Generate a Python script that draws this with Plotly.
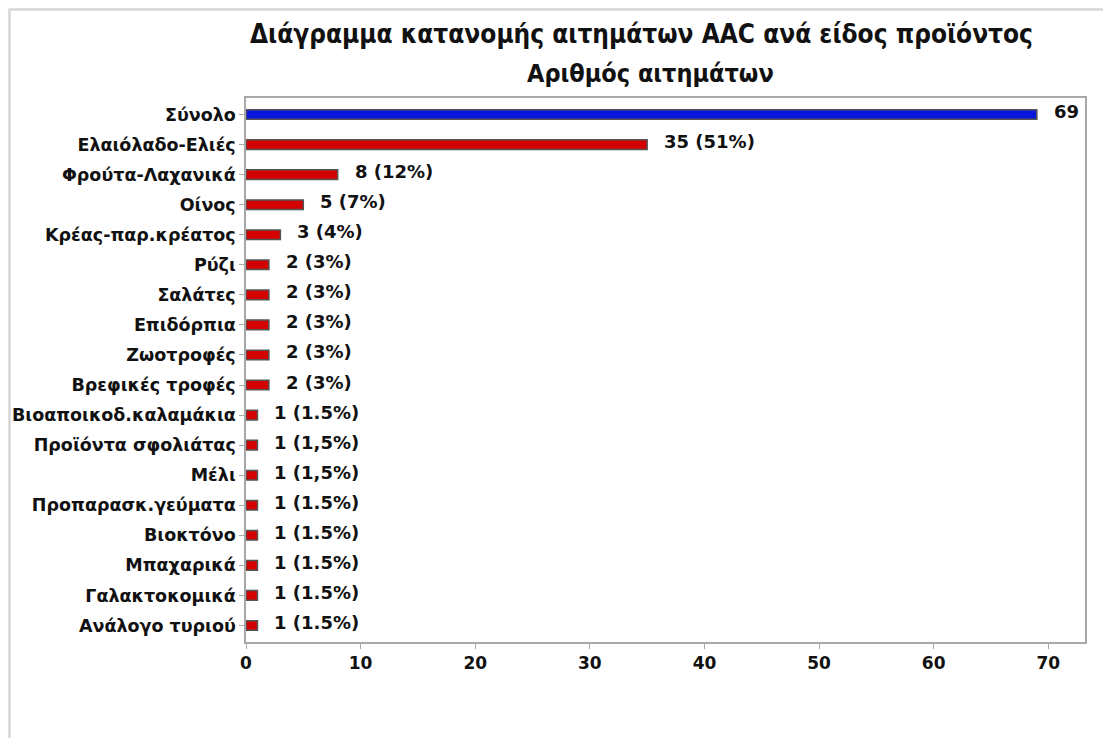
import plotly.graph_objects as go

# Requests per product category (top to bottom)
categories = [
    "Σύνολο", "Ελαιόλαδο-Ελιές", "Φρούτα-Λαχανικά", "Οίνος", "Κρέας-παρ.κρέατος",
    "Ρύζι", "Σαλάτες", "Επιδόρπια", "Ζωοτροφές", "Βρεφικές τροφές",
    "Βιοαποικοδ.καλαμάκια", "Προϊόντα σφολιάτας", "Μέλι", "Προπαρασκ.γεύματα",
    "Βιοκτόνο", "Μπαχαρικά", "Γαλακτοκομικά", "Ανάλογο τυριού",
]
counts = [69, 35, 8, 5, 3, 2, 2, 2, 2, 2, 1, 1, 1, 1, 1, 1, 1, 1]
value_labels = [
    "69", "35 (51%)", "8 (12%)", "5 (7%)", "3 (4%)",
    "2 (3%)", "2 (3%)", "2 (3%)", "2 (3%)", "2 (3%)",
    "1 (1.5%)", "1 (1,5%)", "1 (1,5%)", "1 (1.5%)",
    "1 (1.5%)", "1 (1.5%)", "1 (1.5%)", "1 (1.5%)",
]
x_ticks = [0, 10, 20, 30, 40, 50, 60, 70]

BLUE = "#0b16dc"
RED = "#d40000"
colors = [BLUE] + [RED] * (len(categories) - 1)

CAT_FONT = dict(family="DejaVu Sans", size=17.5, color="#111111")
VAL_FONT = dict(family="DejaVu Sans", size=18, color="#111111")
TICK_FONT = dict(family="DejaVu Sans", size=17, color="#111111")
TITLE_FONT = dict(family="DejaVu Sans Condensed", size=26, color="#111111")
SUBTITLE_FONT = dict(family="DejaVu Sans Condensed", size=25, color="#111111")

fig = go.Figure(
    go.Bar(
        x=counts,
        y=categories,
        orientation="h",
        width=0.32,
        marker=dict(color=colors, line=dict(color="#555555", width=1.5)),
        hoverinfo="x+y",
    )
)

# Value labels to the right of each bar
for cat, val, lab in zip(categories, counts, value_labels):
    fig.add_annotation(
        x=val, y=cat, text=f"<b>{lab}</b>", showarrow=False,
        xanchor="left", yanchor="middle", xshift=15, yshift=3,
        font=VAL_FONT,
    )

# Outer frame
fig.add_shape(
    type="rect", xref="paper", yref="paper",
    x0=-246 / 839 + 9.5 / 839, x1=1.2, y0=-0.3, y1=1 + (98 - 9.5) / 544,
    line=dict(color="#d6d6d6", width=2.5), layer="below",
)

fig.update_layout(
    width=1103, height=738,
    margin=dict(l=246, r=18, t=98, b=96, autoexpand=False),
    paper_bgcolor="white", plot_bgcolor="white",
    showlegend=False,
    annotations=list(fig.layout.annotations) + [
        dict(text="<b>Διάγραμμα κατανομής αιτημάτων AAC ανά είδος προϊόντος</b>",
             xref="paper", yref="paper", x=(641 - 246) / 839, y=1 + (98 - 34) / 544,
             xanchor="center", yanchor="middle", showarrow=False,
             font=TITLE_FONT),
        dict(text="<b>Αριθμός αιτημάτων</b>",
             xref="paper", yref="paper", x=(650 - 246) / 839, y=1 + (98 - 73) / 544,
             xanchor="center", yanchor="middle", showarrow=False,
             font=SUBTITLE_FONT),
    ],
)

fig.update_xaxes(
    range=[0, 73.2], tickvals=x_ticks,
    ticktext=[f"<b>{t}</b>" for t in x_ticks],
    showgrid=False, zeroline=False, automargin=False,
    showline=True, linecolor="#a8a8a8", linewidth=1.5, mirror=True,
    ticks="outside", ticklen=5, tickcolor="#a8a8a8",
    tickfont=TICK_FONT,
)
fig.update_yaxes(
    categoryorder="array", categoryarray=categories,
    autorange=False, range=[17.55, -0.55],
    tickvals=categories,
    ticktext=[f"<b>{c}</b>" for c in categories],
    showgrid=False, zeroline=False, automargin=False,
    showline=True, linecolor="#a8a8a8", linewidth=1.5, mirror=True,
    ticks="outside", ticklen=5, tickcolor="#a8a8a8",
    tickfont=CAT_FONT,
)

fig.write_html("out.html")
